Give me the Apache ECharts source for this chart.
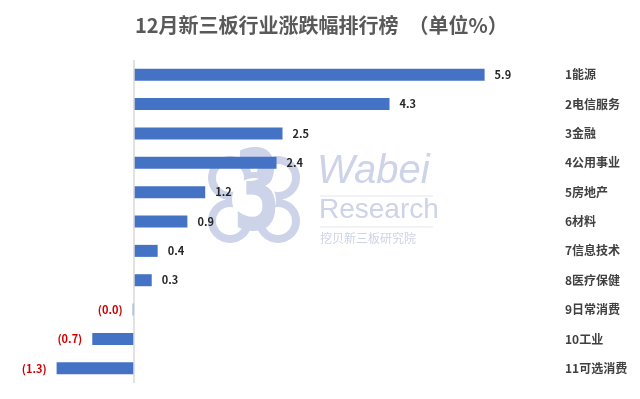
<!DOCTYPE html>
<html lang="zh-CN">
<head>
<meta charset="UTF-8">
<title>12月新三板行业涨跌幅排行榜</title>
<script src="https://cdn.jsdelivr.net/npm/echarts@6/dist/echarts.min.js"></script>
<style>
  html, body { margin: 0; padding: 0; background: #fff; }
  #chart { width: 640px; height: 399px; }
</style>
</head>
<body>
<div id="chart"></div>
<script>
// 行业分类与涨跌幅(%)
const industries = ['1能源', '2电信服务', '3金融', '4公用事业', '5房地产', '6材料',
                    '7信息技术', '8医疗保健', '9日常消费', '10工业', '11可选消费'];
const changes = [5.9, 4.3, 2.5, 2.4, 1.2, 0.9, 0.4, 0.3, -0.02, -0.7, -1.3];

const chart = echarts.init(document.getElementById('chart'));
const lav = '#cdd3e8';
const font = '"Noto Sans CJK SC", sans-serif';

// 水印 logo 的云形轮廓
const lobes = [[230, 178], [278, 178], [230, 221], [278, 221]];
const cloud = [];
lobes.forEach(c => cloud.push({ type: 'circle', z: -10, shape: { cx: c[0], cy: c[1], r: 22 }, style: { fill: lav } }));
cloud.push({ type: 'circle', z: -10, shape: { cx: 254, cy: 200, r: 28 }, style: { fill: lav } });
lobes.forEach(c => cloud.push({ type: 'circle', z: -9, shape: { cx: c[0], cy: c[1], r: 14 }, style: { fill: '#fff' } }));
cloud.push({ type: 'circle', z: -9, shape: { cx: 254, cy: 200, r: 22 }, style: { fill: '#fff' } });

const option = {
  animation: false,
  textStyle: { fontFamily: font },
  title: {
    text: '12月新三板行业涨跌幅排行榜　（单位%）',
    left: 130,
    top: 10,
    textStyle: { fontSize: 20, fontWeight: 'bold', color: '#595959', fontFamily: font }
  },
  graphic: cloud.concat([
    { type: 'text', z: -8, x: 257, y: 200, scaleX: 0.62,
      style: { text: '3', fontSize: 110, fontWeight: 'bold', fontFamily: 'DejaVu Sans', fill: lav,
               align: 'center', verticalAlign: 'middle' } },
    { type: 'text', z: -8, left: 317, top: 152,
      style: { text: 'Wabei', fontSize: 40, fontStyle: 'italic', fontFamily: 'Liberation Sans', fill: lav } },
    { type: 'line', z: -8, shape: { x1: 320, y1: 196, x2: 433, y2: 196 }, style: { stroke: '#e3e7f2', lineWidth: 1 } },
    { type: 'text', z: -8, left: 319, top: 196,
      style: { text: 'Research', fontSize: 28, fontFamily: 'Liberation Sans', fill: lav } },
    { type: 'line', z: -8, shape: { x1: 320, y1: 227, x2: 433, y2: 227 }, style: { stroke: '#e3e7f2', lineWidth: 1 } },
    { type: 'text', z: -8, left: 320, top: 232,
      style: { text: '挖贝新三板研究院', fontSize: 12, fontFamily: font, fill: lav } }
  ]),
  grid: { left: 15, right: 90, top: 60, bottom: 16 },
  xAxis: {
    type: 'value',
    min: -2,
    max: 7,
    show: false
  },
  yAxis: {
    type: 'category',
    data: industries,
    inverse: true,
    position: 'right',
    axisLine: { show: false },
    axisTick: { show: false },
    axisLabel: {
      align: 'left',
      margin: 15,
      fontSize: 12,
      fontWeight: 'bold',
      color: '#404040',
      fontFamily: font
    }
  },
  series: [{
    type: 'bar',
    barWidth: 12,
    z: 2,
    itemStyle: { color: '#4472c4' },
    label: {
      show: true,
      position: 'right',
      distance: 10,
      fontSize: 11,
      fontWeight: 'bold',
      color: '#262626',
      formatter: p => p.value < 0 ? '(' + Math.abs(p.value).toFixed(1) + ')' : p.value.toFixed(1)
    },
    data: changes.map(v => v < 0
      ? { value: v, label: { position: 'left', color: '#d00000' } }
      : v),
    markLine: {
      silent: true,
      symbol: 'none',
      label: { show: false },
      lineStyle: { color: '#d9d9d9', width: 1.5, type: 'solid' },
      data: [{ xAxis: 0 }]
    }
  }]
};

chart.setOption(option);
</script>
</body>
</html>
